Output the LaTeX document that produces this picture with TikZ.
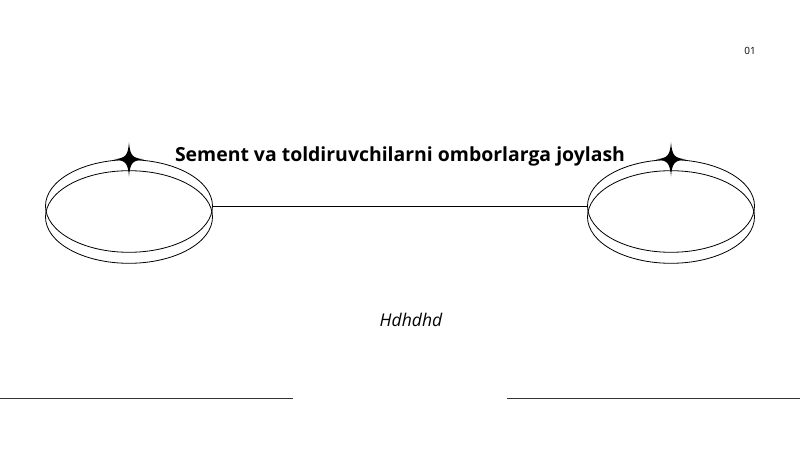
\documentclass[tikz,border=0pt]{standalone}
\usepackage{fontspec}
\setmainfont{Open Sans}
\usetikzlibrary{shapes.geometric}
\tikzset{
  ring/.style={draw,ellipse,line width=0.8bp,minimum width=167bp,minimum height=92.6bp,inner sep=0pt},
  sparkle/.pic={
    \fill (0bp,-17bp) .. controls (1.2bp,-4bp) and (3bp,-1.2bp) .. (15bp,0bp)
      .. controls (3bp,1.2bp) and (1.2bp,4bp) .. (0bp,17bp)
      .. controls (-1.2bp,4bp) and (-3bp,1.2bp) .. (-15bp,0bp)
      .. controls (-3bp,-1.2bp) and (-1.2bp,-4bp) .. cycle;
  },
}
\begin{document}
\begin{tikzpicture}[x=1bp,y=-1bp]
  \useasboundingbox (0,0) rectangle (800,450);
  \fill[white] (0,0) rectangle (800,450);
%%
  % Node: tankL
  \node[ring] (tankL1) at (129,206) {};
  \node[ring] (tankL2) at (129,217) {};
  % Node: tankR
  \node[ring] (tankR1) at (671,206) {};
  \node[ring] (tankR2) at (671,217) {};
  % Edge: tankL -> tankR
  \draw[line width=0.8bp] (tankL1.east) -- (tankR1.west);
  % Stars
  \pic at (tankL1.north) {sparkle};
  \pic at (tankR1.north) {sparkle};
  % Texts
  \node[font=\bfseries\fontsize{19.5}{22}\selectfont] (title) at (400,156) {Sement va toldiruvchilarni omborlarga joylash};
  \node[font=\itshape\fontsize{17.6}{20}\selectfont] (sub) at (411,320) {Hdhdhd};
  \node[font=\fontsize{10}{12}\selectfont] (page) at (750,51) {01};
  % Rules
  \coordinate (ruleL0) at (0,398);
  \coordinate (ruleL1) at (293,398);
  \coordinate (ruleR0) at (507,398);
  \coordinate (ruleR1) at (800,398);
  \draw[line width=0.9bp,black!80] (ruleL0) -- (ruleL1);
  \draw[line width=0.9bp,black!80] (ruleR0) -- (ruleR1);
%
\end{tikzpicture}
\end{document}
